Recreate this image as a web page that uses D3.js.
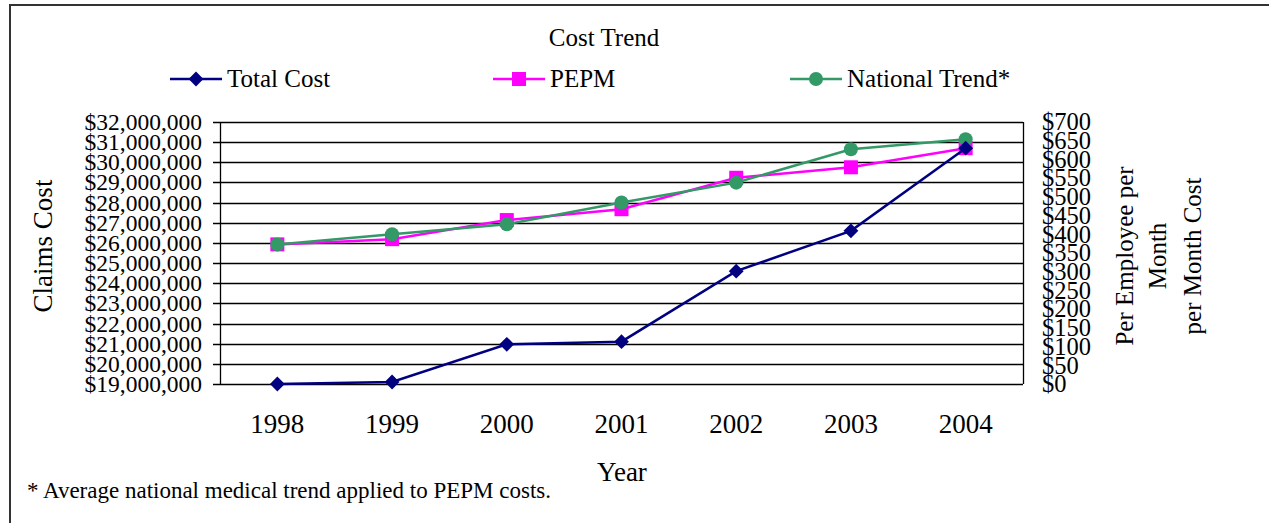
<!DOCTYPE html>
<html>
<head>
<meta charset="utf-8">
<script src="https://cdn.jsdelivr.net/npm/d3@7"></script>
<style>
  body { margin: 0; background: #fff; }
  svg text { font-family: "Liberation Serif", "Times New Roman", serif; fill: #000; }
</style>
</head>
<body>
<script>
// chart data
var years = ["1998", "1999", "2000", "2001", "2002", "2003", "2004"];
var totalCost = [19000000, 19100000, 20970000, 21100000, 24600000, 26600000, 30700000];
var pepm = [373, 387, 438, 467, 551, 579, 630];
var nationalTrend = [373, 400, 427, 485, 538, 627, 654];
var leftTicks = d3.range(19000000, 32000001, 1000000);
var rightTicks = d3.range(0, 701, 50);
var seriesNames = ["Total Cost", "PEPM", "National Trend*"];

var W = 1269, H = 523;
var margin = {top: 122, right: 246, bottom: 139, left: 220},
    width = W - margin.left - margin.right,
    height = H - margin.top - margin.bottom;

var svg = d3.select("body").append("svg")
    .attr("width", W)
    .attr("height", H);

// outer frame (only left and top edges show)
svg.append("path")
    .attr("d", "M10," + H + "V5H" + W)
    .attr("fill", "none")
    .attr("stroke", "#333")
    .attr("stroke-width", 2);

var g = svg.append("g")
    .attr("transform", "translate(" + margin.left + "," + margin.top + ")");

var x = d3.scaleBand().domain(years).range([0, width]);
var yL = d3.scaleLinear().domain([19000000, 32000000]).range([height, 0]);
var yR = d3.scaleLinear().domain([0, 700]).range([height, 0]);

var money = d3.format("$,.0f");

// gridlines
g.selectAll(".grid").data(leftTicks).enter().append("line")
    .attr("class", "grid")
    .attr("x1", -7).attr("x2", width)
    .attr("y1", function(d) { return Math.round(yL(d)) + 0.5; })
    .attr("y2", function(d) { return Math.round(yL(d)) + 0.5; })
    .attr("stroke", "#000").attr("stroke-width", 1.3);

// plot frame verticals
g.append("line").attr("x1", 0.5).attr("x2", 0.5).attr("y1", 0).attr("y2", height)
    .attr("stroke", "#000").attr("stroke-width", 1.3);
g.append("line").attr("x1", width + 0.5).attr("x2", width + 0.5).attr("y1", 0).attr("y2", height)
    .attr("stroke", "#000").attr("stroke-width", 1.3);

var yAxisL = g.append("g")
    .call(d3.axisLeft(yL).tickValues(leftTicks).tickFormat(money).tickSize(0).tickPadding(18));
yAxisL.select(".domain").remove();
yAxisL.selectAll("text").style("font-size", "23.5px");

var yAxisR = g.append("g")
    .attr("transform", "translate(" + width + ",0)")
    .call(d3.axisRight(yR).tickValues(rightTicks).tickFormat(money).tickSize(0).tickPadding(19));
yAxisR.select(".domain").remove();
yAxisR.selectAll("text").style("font-size", "24.5px");

var xAxis = g.append("g")
    .attr("transform", "translate(0," + height + ")")
    .call(d3.axisBottom(x).tickSize(0).tickPadding(30));
xAxis.select(".domain").remove();
xAxis.selectAll("text").style("font-size", "27px");

var cx = function(i) { return x(years[i]) + x.bandwidth() / 2; };

var lineL = d3.line().x(function(d, i) { return cx(i); }).y(function(d) { return yL(d); });
var lineR = d3.line().x(function(d, i) { return cx(i); }).y(function(d) { return yR(d); });

var colors = ["#000080", "#ff00ff", "#339966"];

g.append("path").datum(pepm).attr("d", lineR)
    .attr("fill", "none").attr("stroke", colors[1]).attr("stroke-width", 2.5);
g.selectAll(".sq").data(pepm).enter().append("rect")
    .attr("x", function(d, i) { return cx(i) - 7; })
    .attr("y", function(d) { return yR(d) - 7; })
    .attr("width", 14).attr("height", 14)
    .attr("fill", colors[1]);

g.append("path").datum(nationalTrend).attr("d", lineR)
    .attr("fill", "none").attr("stroke", colors[2]).attr("stroke-width", 2.5);
g.selectAll(".dot").data(nationalTrend).enter().append("circle")
    .attr("cx", function(d, i) { return cx(i); })
    .attr("cy", function(d) { return yR(d); })
    .attr("r", 7)
    .attr("fill", colors[2]);

g.append("path").datum(totalCost).attr("d", lineL)
    .attr("fill", "none").attr("stroke", colors[0]).attr("stroke-width", 2.5);
var diamond = d3.symbol().type(d3.symbolDiamond2).size(140);
g.selectAll(".dia").data(totalCost).enter().append("path")
    .attr("transform", function(d, i) { return "translate(" + cx(i) + "," + yL(d) + ")"; })
    .attr("d", diamond)
    .attr("fill", colors[0]);

// titles
svg.append("text").attr("x", 604).attr("y", 46)
    .attr("text-anchor", "middle").style("font-size", "25px").text("Cost Trend");

svg.append("text")
    .attr("transform", "translate(52,246) rotate(-90)")
    .attr("text-anchor", "middle").style("font-size", "27px").text("Claims Cost");

var rt = svg.append("text")
    .attr("transform", "translate(1133,256) rotate(-90)")
    .attr("text-anchor", "middle").style("font-size", "25px");
rt.append("tspan").attr("x", 0).attr("dy", 0).text("Per Employee per");
rt.append("tspan").attr("x", 0).attr("dy", 33).text("Month");
rt.append("tspan").attr("x", 0).attr("dy", 35).text("per Month Cost");

svg.append("text").attr("x", 622).attr("y", 481)
    .attr("text-anchor", "middle").style("font-size", "27px").text("Year");

svg.append("text").attr("x", 27).attr("y", 498)
    .style("font-size", "23px").text("* Average national medical trend applied to PEPM costs.");

// legend
var legendX = [170, 493, 790];
var leg = svg.selectAll(".leg").data(seriesNames).enter().append("g")
    .attr("transform", function(d, i) { return "translate(" + legendX[i] + ",79)"; });
leg.append("line").attr("x1", 0).attr("x2", 52)
    .attr("stroke", function(d, i) { return colors[i]; }).attr("stroke-width", 2.5);
leg.each(function(d, i) {
  var s = d3.select(this);
  if (i === 0) s.append("path").attr("transform", "translate(26,0)").attr("d", diamond).attr("fill", colors[0]);
  if (i === 1) s.append("rect").attr("x", 19).attr("y", -7).attr("width", 14).attr("height", 14).attr("fill", colors[1]);
  if (i === 2) s.append("circle").attr("cx", 26).attr("r", 7).attr("fill", colors[2]);
});
leg.append("text").attr("x", 57).attr("y", 8)
    .style("font-size", "25px").text(function(d) { return d; });
</script>
</body>
</html>
